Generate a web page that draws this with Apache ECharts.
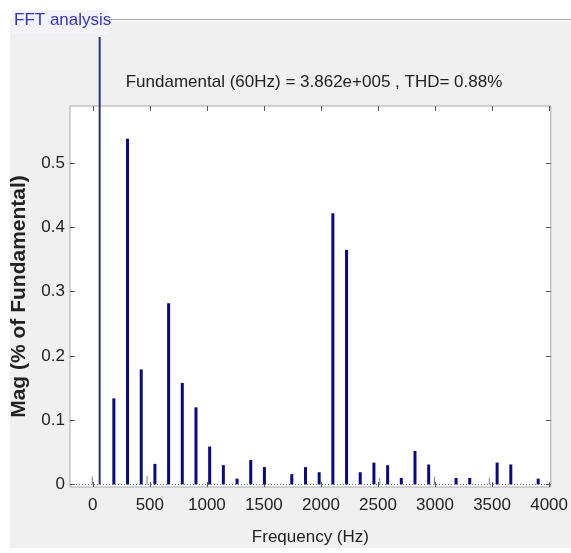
<!DOCTYPE html>
<html>
<head>
<meta charset="utf-8">
<script src="https://cdn.jsdelivr.net/npm/echarts@6/dist/echarts.min.js"></script>
<style>
  html, body { margin: 0; padding: 0; background: #fff; }
  #chart { width: 571px; height: 553px; }
</style>
</head>
<body>
<div id="chart"></div>
<script>
// 基波 (60Hz)
const fundFreq = [60]
const fundMag = [100]
// 谐波频率 / 幅值 (% of Fundamental)
const harmFreq = [180, 300, 420, 540, 660, 780, 900, 1020, 1140, 1260, 1380, 1500, 1740, 1860, 1980,
  2100, 2220, 2340, 2460, 2580, 2700, 2820, 2940, 3180, 3300, 3540, 3660, 3900]
const harmMag = [0.134, 0.538, 0.179, 0.032, 0.282, 0.158, 0.120, 0.059, 0.030, 0.009, 0.038, 0.027, 0.016, 0.027, 0.019,
  0.422, 0.365, 0.019, 0.034, 0.030, 0.010, 0.052, 0.031, 0.010, 0.010, 0.034, 0.031, 0.009]
// 很小的杂散分量
const minorFreq = [0, 480, 2520, 3000, 3480]
const minorMag = [0.012, 0.013, 0.010, 0.012, 0.010]
// 刻度
const xTicks = [0, 500, 1000, 1500, 2000, 2500, 3000, 3500, 4000]
const yTicks = [0, 0.1, 0.2, 0.3, 0.4, 0.5]

const FONT = "'Liberation Sans', Arial, sans-serif"
const pair = (xs, ys) => xs.map((x, i) => [x, ys[i]])

const chart = echarts.init(document.getElementById('chart'), null, { renderer: 'canvas' })

const tickStyle = { show: true, inside: true, length: 5, lineStyle: { color: '#555' } }
const noLine = { show: false, onZero: false }

const option = {
  backgroundColor: '#f0f0f0',
  animation: false,
  title: {
    text: 'Fundamental (60Hz) = 3.862e+005 , THD= 0.88%',
    left: 309,
    textAlign: 'center',
    top: 69,
    textStyle: { fontFamily: FONT, fontSize: 17, fontWeight: 'normal', color: '#222' }
  },
  grid: {
    left: 70, right: 19, top: 106, bottom: 66,
    show: true, backgroundColor: '#fff', borderColor: '#a8a8a8', borderWidth: 1
  },
  xAxis: [
    {
      type: 'value', min: -200, max: 4015, position: 'bottom',
      name: 'Frequency (Hz)', nameLocation: 'middle', nameGap: 42,
      nameTextStyle: { fontFamily: FONT, fontSize: 17, color: '#222' },
      axisLine: noLine,
      axisTick: Object.assign({ customValues: xTicks }, tickStyle),
      axisLabel: { customValues: xTicks, margin: 10, fontFamily: FONT, fontSize: 17, color: '#222',
        formatter: v => String(v) },
      splitLine: { show: false }
    },
    {
      type: 'value', min: -200, max: 4015, position: 'top',
      axisLine: noLine,
      axisTick: Object.assign({ customValues: xTicks }, tickStyle),
      axisLabel: { show: false },
      splitLine: { show: false }
    }
  ],
  yAxis: [
    {
      type: 'value', min: -0.004, max: 0.589, position: 'left',
      name: 'Mag (% of Fundamental)', nameLocation: 'middle', nameRotate: 90, nameGap: 40,
      nameTextStyle: { fontFamily: FONT, fontSize: 21, fontWeight: 'bold', color: '#222' },
      axisLine: noLine,
      axisTick: Object.assign({ customValues: yTicks }, tickStyle),
      axisLabel: { customValues: yTicks, margin: 5, fontFamily: FONT, fontSize: 17, color: '#222',
        formatter: v => String(v) },
      splitLine: { show: false }
    },
    {
      type: 'value', min: -0.004, max: 0.589, position: 'right',
      axisLine: noLine,
      axisTick: Object.assign({ customValues: yTicks }, tickStyle),
      axisLabel: { show: false },
      splitLine: { show: false }
    }
  ],
  series: [
    {
      name: 'minor', type: 'bar', barWidth: 1, barGap: '-100%',
      itemStyle: { color: '#77779a' },
      data: pair(minorFreq, minorMag),
      markLine: {
        silent: true, symbol: 'none', label: { show: false },
        lineStyle: { color: '#6a6a8a', type: [1, 2], width: 1 },
        data: [{ yAxis: 0 }]
      }
    },
    {
      name: 'harmonics', type: 'bar', barWidth: 3, barGap: '-100%',
      itemStyle: { color: '#0a0a80' },
      data: pair(harmFreq, harmMag)
    },
    {
      name: 'fundamental', type: 'bar', barWidth: 2, barGap: '-100%', clip: false,
      itemStyle: { color: '#30307a' },
      data: pair(fundFreq, fundMag)
    }
  ],
  // 面板边框与标题 (盖住超出面板的基波柱)
  graphic: [
    { type: 'rect', z: 100, shape: { x: 0, y: 0, width: 571, height: 19 }, style: { fill: '#fff' } },
    { type: 'rect', z: 100, shape: { x: 10, y: 19, width: 561, height: 18 }, style: { fill: '#f0f0f0' } },
    { type: 'rect', z: 100, shape: { x: 0, y: 0, width: 10, height: 553 }, style: { fill: '#fff' } },
    { type: 'rect', z: 100, shape: { x: 0, y: 548, width: 571, height: 5 }, style: { fill: '#fff' } },
    { type: 'line', z: 101, shape: { x1: 108, y1: 19.5, x2: 571, y2: 19.5 }, style: { stroke: '#a9a9a9', lineWidth: 1 } },
    { type: 'line', z: 101, shape: { x1: 108, y1: 20.5, x2: 571, y2: 20.5 }, style: { stroke: '#fff', lineWidth: 1 } },
    { type: 'rect', z: 102, shape: { x: 12, y: 10, width: 97, height: 24 }, style: { fill: '#f4f2fc' } },
    {
      type: 'text', z: 103, left: 14, top: 12,
      style: { text: 'FFT analysis', font: "17px " + FONT, fill: '#3434c4' }
    }
  ]
}
chart.setOption(option)
</script>
</body>
</html>
